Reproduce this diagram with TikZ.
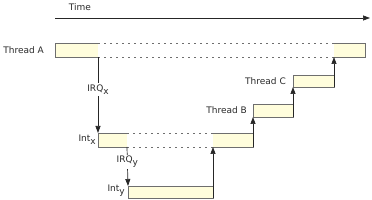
\documentclass[tikz,border=0pt]{standalone}
\usepackage{fontspec}
\setmainfont{DejaVu Sans}
\usetikzlibrary{arrows.meta}
\definecolor{barfill}{HTML}{FFFDDC}
\definecolor{barline}{HTML}{6E6E6E}
\definecolor{txt}{HTML}{2A2A2A}
\tikzset{
  bar/.style={fill=barfill, draw=none, inner sep=0pt, outer sep=0pt, minimum height=#1, anchor=north west},
  edge/.style={draw=barline, line width=0.8pt},
  dots/.style={draw=barline, line width=0.8pt, dash pattern=on 2pt off 4pt},
  arr/.style={draw=black!85, line width=0.7pt, -{Triangle[width=5pt,length=7pt]}},
  lbl/.style={text=txt, font=\fontsize{9}{10}\selectfont, inner sep=0pt},
}
\newcommand{\sbx}[1]{\raisebox{-2.8pt}{#1}}
\begin{document}
\begin{tikzpicture}[x=1pt,y=-1pt]
\useasboundingbox (0,0) rectangle (372,200);
% time axis
\coordinate (t0) at (55,18);
\coordinate (t1) at (370,18);
\draw[arr] (t0) -- (t1);
\node[lbl] (time) at (80,7) {Time};
% Thread A
\node[bar=14pt, minimum width=43pt] (A1) at (55,43) {};
\node[bar=14pt, minimum width=31pt] (A2) at (334,43) {};
\draw[edge] (A1.north east) -- (A1.north west) -- (A1.south west) -- (A1.south east);
\draw[edge] (A2.north west) -- (A2.north east) -- (A2.south east) -- (A2.south west);
\draw[dots] (A1.north east) -- (A2.north west);
\draw[dots] (A1.south east) -- (A2.south west);
\node[lbl, anchor=east] (lA) at (44,50) {Thread A};
% Int x
\node[bar=14pt, minimum width=29pt] (X1) at (98,133) {};
\node[bar=14pt, minimum width=40pt] (X2) at (213,133) {};
\draw[edge] (X1.north east) -- (X1.north west) -- (X1.south west) -- (X1.south east);
\draw[edge] (X2.north west) -- (X2.north east) -- (X2.south east) -- (X2.south west);
\draw[dots] (X1.north east) -- (X2.north west);
\draw[dots] (X1.south east) -- (X2.south west);
\node[lbl, anchor=east] (lX) at (96,140) {Int\sbx{x}};
% Int y
\node[bar=12pt, minimum width=85pt] (Y) at (128,186) {};
\draw[edge] (Y.north west) rectangle (Y.south east);
\node[lbl, anchor=east] (lY) at (125,191) {Int\sbx{y}};
% Thread B
\node[bar=13pt, minimum width=40pt] (B) at (253,104) {};
\draw[edge] (B.north west) rectangle (B.south east);
\node[lbl, anchor=east] (lB) at (247,110) {Thread B};
% Thread C
\node[bar=12pt, minimum width=41pt] (C) at (293,75) {};
\draw[edge] (C.north west) rectangle (C.south east);
\node[lbl, anchor=east] (lC) at (286,81) {Thread C};
% arrows
\draw[arr] (A1.south east) -- node[lbl, fill=white, inner sep=1.5pt, pos=0.43] (irqx) {IRQ\sbx{x}} (X1.north west);
\draw[arr] (X1.south east) -- node[lbl, fill=white, inner sep=1.5pt, pos=0.38] (irqy) {IRQ\sbx{y}} (Y.north west);
\draw[arr] (Y.south east) -- (X2.south west);
\draw[arr] (X2.south east) -- (B.south west);
\draw[arr] (B.south east) -- (C.south west);
\draw[arr] (C.south east) -- (A2.south west);
\end{tikzpicture}
\end{document}
